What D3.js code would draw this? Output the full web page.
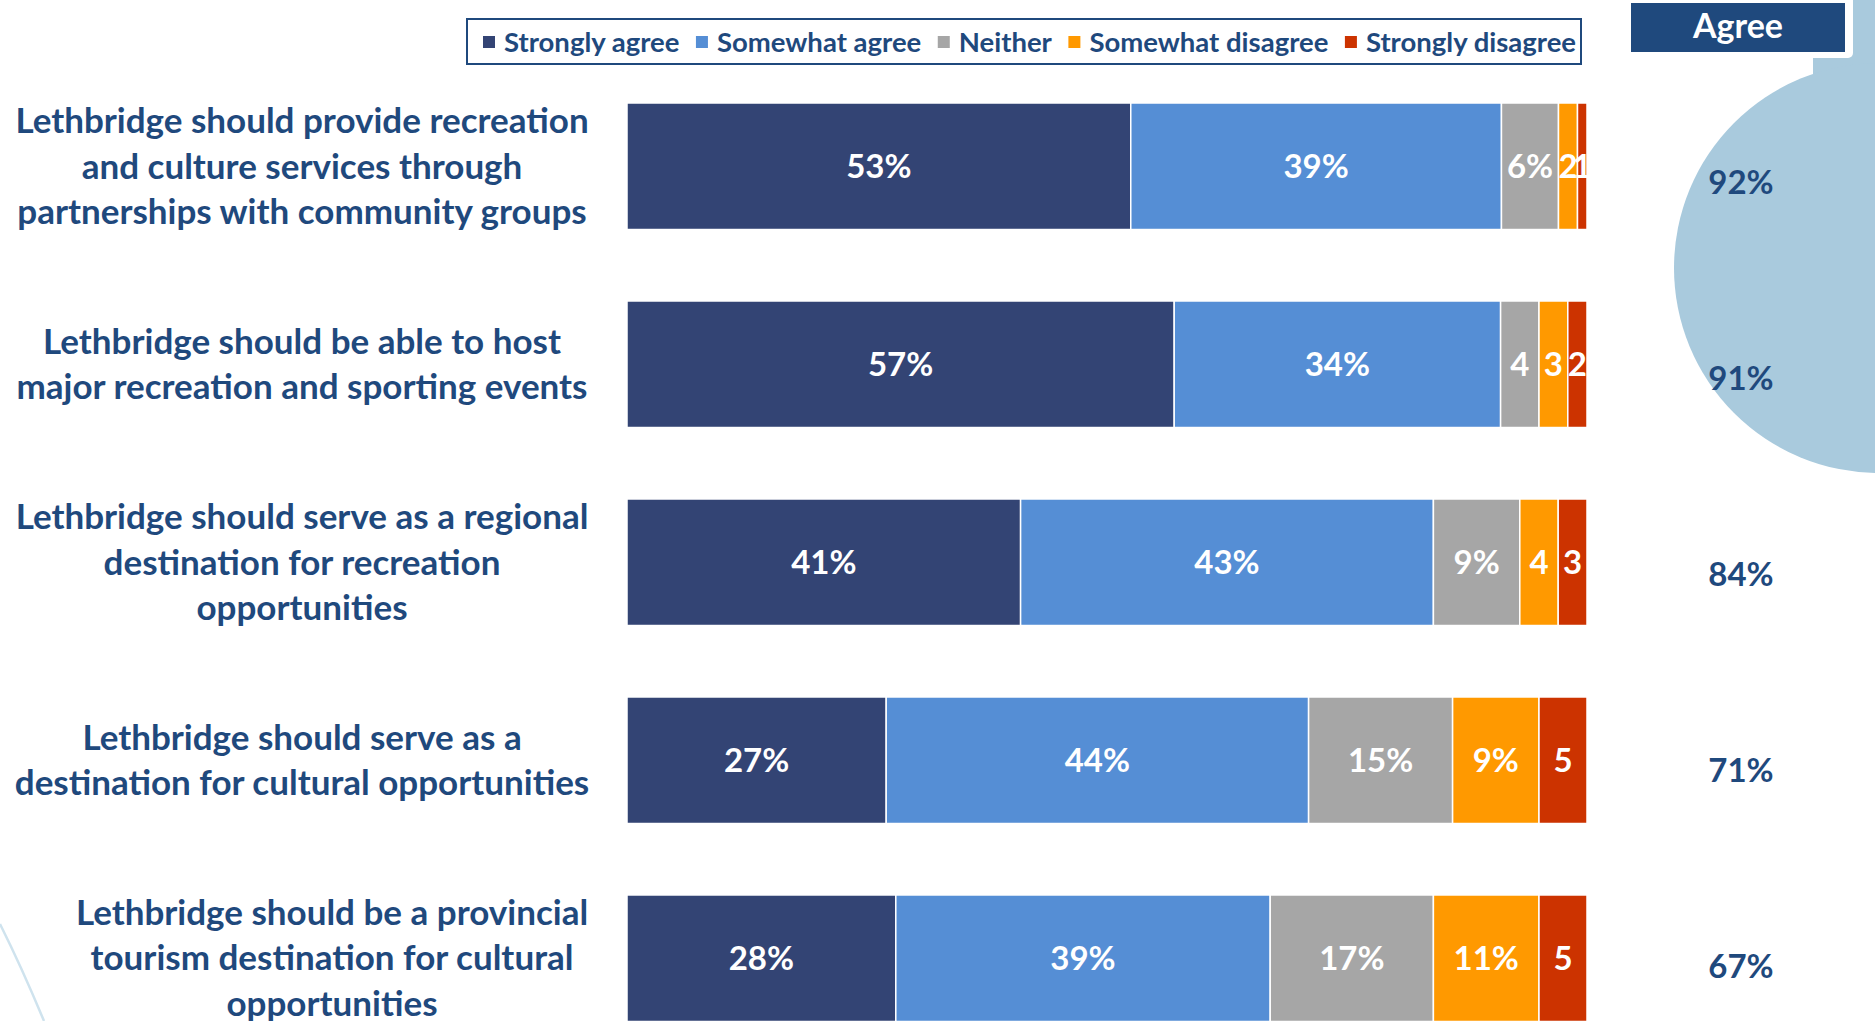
<!DOCTYPE html>
<html>
<head>
<meta charset="utf-8">
<script src="https://cdn.jsdelivr.net/npm/d3@7/dist/d3.min.js"></script>
<style>
  html, body { margin: 0; padding: 0; background: #fff; overflow: hidden; }
  svg { display: block; font-family: Lato, "Open Sans", sans-serif; font-weight: 700; }
</style>
</head>
<body>
<svg id="chart" width="1875" height="1021"></svg>
<script>
// statements, one array of lines each (as wrapped in the original)
var statementLines = [
  ['Lethbridge should provide recreation', 'and culture services through', 'partnerships with community groups'],
  ['Lethbridge should be able to host', 'major recreation and sporting events'],
  ['Lethbridge should serve as a regional', 'destination for recreation', 'opportunities'],
  ['Lethbridge should serve as a', 'destination for cultural opportunities'],
  ['Lethbridge should be a provincial', 'tourism destination for cultural', 'opportunities']
];
var categories = statementLines.map(function(l) { return l.join(' '); });

var series = ['Strongly agree', 'Somewhat agree', 'Neither', 'Somewhat disagree', 'Strongly disagree'];
var stronglyAgree    = [53, 57, 41, 27, 28];
var somewhatAgree    = [39, 34, 43, 44, 39];
var neither          = [6, 4, 9, 15, 17];
var somewhatDisagree = [2, 3, 4, 9, 11];
var stronglyDisagree = [1, 2, 3, 5, 5];

var colors = ['#334474', '#558ed5', '#a6a6a6', '#ff9900', '#cc3300'];
var textBlue = '#1f497d';

var svg = d3.select('#chart');

// table for d3.stack
var rows = categories.map(function(c, i) {
  return {
    category: c,
    'Strongly agree': stronglyAgree[i],
    'Somewhat agree': somewhatAgree[i],
    'Neither': neither[i],
    'Somewhat disagree': somewhatDisagree[i],
    'Strongly disagree': stronglyDisagree[i]
  };
});

var stacked = d3.stack().keys(series).offset(d3.stackOffsetExpand)(rows);

var x = d3.scaleLinear().domain([0, 1]).range([627, 1587]);
var y = d3.scaleBand().domain(categories).range([103, 1021.5]).paddingInner(0.361).paddingOuter(0);
var color = d3.scaleOrdinal().domain(series).range(colors);

// decorations behind the "Agree" column
svg.append('rect').attr('x', 1813).attr('y', 0).attr('width', 70).attr('height', 270).attr('fill', '#a9cadd');
svg.append('circle').attr('cx', 1879).attr('cy', 268).attr('r', 205).attr('fill', '#a9cadd');
svg.append('rect').attr('x', 1622).attr('y', -10).attr('width', 231).attr('height', 68).attr('rx', 5)
  .attr('fill', '#fff');
svg.append('path').attr('d', 'M0,924 Q22,968 44,1021')
  .attr('fill', 'none').attr('stroke', '#cfe3ee').attr('stroke-width', 2.5);

// Agree header
svg.append('rect').attr('x', 1631).attr('y', 3).attr('width', 214).attr('height', 49).attr('fill', textBlue);
svg.append('text').attr('x', 1738).attr('y', 26).attr('dy', '0.35em')
  .attr('text-anchor', 'middle').attr('fill', '#fff').style('font-size', '34px').text('Agree');

// bars
var layer = svg.append('g').selectAll('g')
  .data(stacked)
  .enter().append('g')
    .attr('fill', function(d) { return color(d.key); });

layer.selectAll('rect')
  .data(function(d) { return d; })
  .enter().append('rect')
    .attr('x', function(d) { return x(d[0]); })
    .attr('y', function(d) { return y(d.data.category); })
    .attr('width', function(d) { return x(d[1]) - x(d[0]); })
    .attr('height', y.bandwidth())
    .attr('stroke', '#fff')
    .attr('stroke-width', 1.5);

// value labels: small shares are printed without the % sign
layer.selectAll('text')
  .data(function(d) { return d.map(function(p) { return { p: p, v: p.data[d.key] }; }); })
  .enter().append('text')
    .attr('x', function(d) { return (x(d.p[0]) + x(d.p[1])) / 2; })
    .attr('y', function(d) { return y(d.p.data.category) + y.bandwidth() / 2; })
    .attr('dy', '0.35em')
    .attr('text-anchor', 'middle')
    .attr('fill', '#fff')
    .style('font-size', '33px')
    .text(function(d) { return d.v >= 6 ? d.v + '%' : d.v; });

// statement labels
var labels = svg.append('g').selectAll('text')
  .data(statementLines)
  .enter().append('text')
    .attr('text-anchor', 'middle')
    .attr('fill', textBlue)
    .style('font-size', '35px')
    .attr('transform', function(d, i) {
      // the last text box sits a little further right in the original
      var cx = i === statementLines.length - 1 ? 332 : 302;
      return 'translate(' + cx + ',' + (y(categories[i]) + y.bandwidth() / 2) + ')';
    });

labels.selectAll('tspan')
  .data(function(d) { return d.map(function(line, k) { return { line: line, k: k, n: d.length }; }); })
  .enter().append('tspan')
    .attr('x', 0)
    .attr('y', function(d) { return (d.k - (d.n - 1) / 2) * 45.5; })
    .attr('dy', '0.35em')
    .text(function(d) { return d.line; });

// Agree totals column
var yAgree = d3.scalePoint().domain(categories).range([182, 966]);
svg.append('g').selectAll('text')
  .data(categories)
  .enter().append('text')
    .attr('x', 1741)
    .attr('y', function(d) { return yAgree(d); })
    .attr('dy', '0.35em')
    .attr('text-anchor', 'middle')
    .attr('fill', textBlue)
    .style('font-size', '33px')
    .text(function(d, i) { return (stronglyAgree[i] + somewhatAgree[i]) + '%'; });

// legend
var legend = svg.append('g');
legend.append('rect').attr('x', 467).attr('y', 19).attr('width', 1114).attr('height', 45)
  .attr('fill', '#fff').attr('stroke', textBlue).attr('stroke-width', 2);

var lx = 483;
series.forEach(function(s) {
  legend.append('rect').attr('x', lx).attr('y', 36).attr('width', 12).attr('height', 12).attr('fill', color(s));
  var t = legend.append('text').attr('x', lx + 21).attr('y', 42).attr('dy', '0.35em')
    .attr('fill', textBlue).style('font-size', '27.5px').text(s);
  lx += 21 + t.node().getComputedTextLength() + 16.5;
});
</script>
</body>
</html>
